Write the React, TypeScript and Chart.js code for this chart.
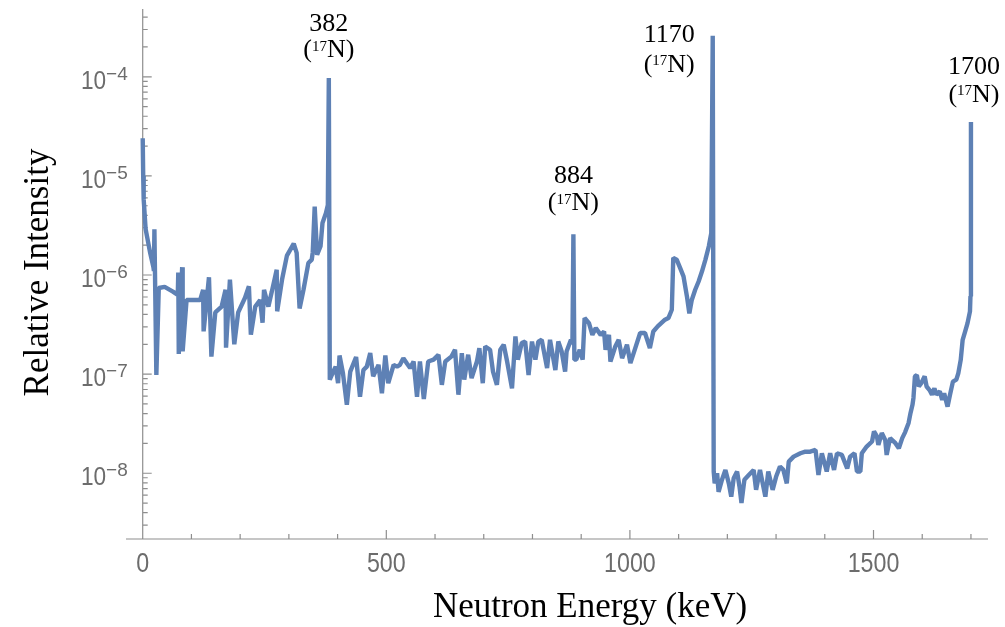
import React, { useEffect, useRef } from "react";
import { Chart, registerables } from "chart.js";

Chart.register(...registerables);

// ---- Data (energy in keV, relative intensity) ----
const energiesA = [0, 1, 2, 6, 15, 22, 23, 24, 28, 33, 45, 62, 72, 73, 74, 81, 82, 90, 118, 124, 125, 136, 141, 149, 162, 170, 171, 179, 188, 196, 210, 218, 222, 231, 241, 246, 249, 258, 265, 275, 276, 286, 296, 310, 316, 322, 330, 340, 347, 349, 353, 358, 365, 369, 376, 380, 382, 384];
const intensitiesA = [2.4e-5, 1.0e-5, 5.8e-6, 2.9e-6, 1.7e-6, 1.2e-6, 1.1e-6, 2.9e-6, 9.8e-8, 7.4e-7, 7.6e-7, 6.8e-7, 6.3e-7, 1.06e-6, 1.6e-7, 1.2e-6, 1.7e-7, 5.6e-7, 5.6e-7, 7.1e-7, 2.7e-7, 9.5e-7, 1.5e-7, 4.2e-7, 4.8e-7, 7.1e-7, 1.85e-7, 9.0e-7, 2.0e-7, 4.2e-7, 5.9e-7, 7.7e-7, 2.5e-7, 4.8e-7, 5.6e-7, 3.3e-7, 7.1e-7, 4.8e-7, 6.8e-7, 1.13e-6, 4.3e-7, 9.0e-7, 1.57e-6, 2.07e-6, 1.67e-6, 4.6e-7, 7.1e-7, 1.32e-6, 1.43e-6, 1.7e-6, 4.9e-6, 1.6e-6, 1.95e-6, 3.35e-6, 4.2e-6, 5.1e-6, 9.7e-5, 8.8e-8];

const energiesB = [391, 396, 401, 404, 411, 419, 426, 438, 446, 453, 460, 467, 473, 484, 491, 498, 504, 515, 522, 528, 535, 542, 549, 556, 563, 569, 577, 586, 597, 607, 614, 621, 634, 641, 648, 655, 660, 668, 675, 686, 691, 698, 703, 713, 719, 727, 734, 741, 748, 758, 765, 770, 778, 785, 792, 799, 806, 812, 819, 830, 836, 847, 853, 860, 867, 870, 879, 882, 884, 886];
const intensitiesB = [1.06e-7, 1.19e-7, 8.1e-8, 1.54e-7, 1.02e-7, 4.9e-8, 1.06e-7, 1.49e-7, 5.9e-8, 1.1e-7, 1.19e-7, 1.63e-7, 9.5e-8, 1.24e-7, 6.4e-8, 1.54e-7, 8.1e-8, 1.24e-7, 1.19e-7, 1.24e-7, 1.45e-7, 1.29e-7, 1.15e-7, 1.34e-7, 5.9e-8, 1.34e-7, 5.6e-8, 1.34e-7, 1.4e-7, 1.57e-7, 7.8e-8, 1.34e-7, 1.51e-7, 1.76e-7, 6.2e-8, 1.63e-7, 8.8e-8, 1.57e-7, 9.1e-8, 1.34e-7, 1.83e-7, 8.1e-8, 1.9e-7, 1.76e-7, 1.06e-7, 7.8e-8, 1.76e-7, 1.98e-7, 1.34e-7, 7.2e-8, 2.4e-7, 1.4e-7, 2.06e-7, 2.13e-7, 9.8e-8, 2.13e-7, 1.4e-7, 2.13e-7, 2.22e-7, 1.15e-7, 2.22e-7, 1.1e-7, 2.13e-7, 1.69e-7, 1.06e-7, 1.69e-7, 2.22e-7, 2.0e-7, 2.58e-6, 1.4e-7];

const energiesC = [890, 897, 903, 907, 916, 923, 930, 940, 947, 950, 957, 960, 970, 977, 984, 994, 1001, 1011, 1021, 1031, 1041, 1048, 1057, 1072, 1079, 1086, 1089, 1096, 1103, 1110, 1117, 1122, 1127, 1134, 1141, 1148, 1155, 1162, 1167, 1170, 1172];
const intensitiesC = [1.4e-7, 1.76e-7, 1.4e-7, 3.68e-7, 3.27e-7, 2.49e-7, 2.92e-7, 2.49e-7, 2.69e-7, 1.76e-7, 2.49e-7, 1.34e-7, 1.9e-7, 2.22e-7, 1.45e-7, 1.98e-7, 1.29e-7, 1.83e-7, 2.6e-7, 2.6e-7, 1.83e-7, 2.69e-7, 3.03e-7, 3.54e-7, 3.68e-7, 4.46e-7, 1.49e-6, 1.43e-6, 1.18e-6, 9.7e-7, 6.1e-7, 4.1e-7, 5.6e-7, 7.1e-7, 8.6e-7, 1.09e-6, 1.43e-6, 1.95e-6, 2.65e-6, 2.6e-4, 1.04e-8];

const energiesD = [1174, 1179, 1182, 1189, 1196, 1203, 1208, 1213, 1220, 1225, 1229, 1235, 1244, 1254, 1259, 1267, 1278, 1284, 1293, 1300, 1308, 1315, 1322, 1326, 1336, 1350, 1360, 1370, 1381, 1387, 1394, 1404, 1411, 1419, 1425, 1435, 1446, 1452, 1461, 1466, 1473, 1476, 1486, 1497, 1501, 1507, 1510, 1517, 1524, 1527, 1534, 1545, 1552, 1559, 1565, 1572, 1576, 1580, 1582, 1585, 1589, 1593, 1598, 1605, 1609, 1615, 1620, 1625, 1629, 1636, 1641, 1645, 1652, 1657, 1663, 1670, 1674, 1679, 1683, 1688, 1693, 1698, 1699, 1700];
const intensitiesD = [7.9e-9, 1.0e-8, 6.5e-9, 8.6e-9, 1.08e-8, 7.9e-9, 5.8e-9, 8.9e-9, 1.04e-8, 7.3e-9, 5.0e-9, 8.6e-9, 9.6e-9, 1.08e-8, 6.8e-9, 1.08e-8, 5.8e-9, 1.04e-8, 6.8e-9, 9.2e-9, 1.17e-8, 1.08e-8, 7.9e-9, 1.31e-8, 1.47e-8, 1.59e-8, 1.65e-8, 1.65e-8, 1.72e-8, 9.6e-9, 1.59e-8, 1.04e-8, 1.59e-8, 1.08e-8, 1.59e-8, 1.53e-8, 1.12e-8, 1.47e-8, 1.59e-8, 1.04e-8, 1.04e-8, 1.59e-8, 1.86e-8, 2.09e-8, 2.64e-8, 2.35e-8, 1.93e-8, 2.54e-8, 2.17e-8, 1.53e-8, 2.26e-8, 2.01e-8, 1.79e-8, 2.26e-8, 2.6e-8, 3.22e-8, 4.06e-8, 4.9e-8, 5.75e-8, 9.5e-8, 9.8e-8, 7.5e-8, 8.1e-8, 9.5e-8, 7.5e-8, 6.9e-8, 6.2e-8, 7.2e-8, 6.2e-8, 6.7e-8, 5.5e-8, 6.4e-8, 4.7e-8, 6.2e-8, 8.4e-8, 8.8e-8, 1.02e-7, 1.39e-7, 2.22e-7, 2.69e-7, 3.27e-7, 4.3e-7, 6.1e-7, 3.5e-5];

const energies = [...energiesA, ...energiesB, ...energiesC, ...energiesD];
const intensities = [...intensitiesA, ...intensitiesB, ...intensitiesC, ...intensitiesD];

// Tick labels and peak annotations
const xTickValues = [0, 500, 1000, 1500];
const xTickLabels = ["0", "500", "1000", "1500"];
const yTickExponents = [-4, -5, -6, -7, -8];
const peakEnergies = [382, 884, 1170, 1700];
const peakLabels = ["382", "884", "1170", "1700"];
const nuclideLabel = "N";
const nuclideMass = "17";

const xTitle = "Neutron Energy (keV)";
const yTitle = "Relative Intensity";

const X_MIN = -34.3;
const X_MAX = 1735;
const Y_MIN = 2.17e-9;
const Y_MAX = 4.83e-4;

const SANS = '"Liberation Sans", Arial, sans-serif';
const SERIF = '"Liberation Serif", "Times New Roman", serif';
const LINE_COLOR = "#5e81b5";
const AXIS_COLOR = "#8e8e8e";
const TICK_TEXT = "#6c6c6c";

function drawNuclide(ctx: CanvasRenderingContext2D, cx: number, baseline: number) {
  ctx.font = `26px ${SERIF}`;
  const wOpen = ctx.measureText("(").width;
  const wRest = ctx.measureText(nuclideLabel + ")").width;
  ctx.font = `15px ${SERIF}`;
  const wSup = ctx.measureText(nuclideMass).width;
  let x = cx - (wOpen + wSup + wRest) / 2;
  ctx.textAlign = "left";
  ctx.font = `26px ${SERIF}`;
  ctx.fillText("(", x, baseline);
  x += wOpen;
  ctx.font = `15px ${SERIF}`;
  ctx.fillText(nuclideMass, x, baseline - 6.5);
  x += wSup;
  ctx.font = `26px ${SERIF}`;
  ctx.fillText(nuclideLabel + ")", x, baseline);
}

const decorPlugin = {
  id: "decor",
  beforeDatasetsDraw(chart: any) {
    const { ctx, chartArea: a, scales } = chart;
    const xs = scales.x;
    const ys = scales.y;
    const x0 = xs.getPixelForValue(0);
    ctx.save();
    ctx.strokeStyle = AXIS_COLOR;
    ctx.lineWidth = 1.2;
    ctx.beginPath();
    ctx.moveTo(a.left, a.bottom);
    ctx.lineTo(a.right, a.bottom);
    ctx.moveTo(x0, a.top);
    ctx.lineTo(x0, a.bottom);
    for (let v = 0; v <= 1700; v += 100) {
      const px = xs.getPixelForValue(v);
      const len = v % 500 === 0 ? 9 : 5;
      ctx.moveTo(px, a.bottom);
      ctx.lineTo(px, a.bottom - len);
    }
    for (let e = -9; e <= -4; e++) {
      for (let k = 1; k <= 9; k++) {
        const val = k * Math.pow(10, e);
        if (val < Y_MIN || val > Y_MAX) continue;
        const py = ys.getPixelForValue(val);
        const len = k === 1 ? 9 : 5;
        ctx.moveTo(x0, py);
        ctx.lineTo(x0 + len, py);
      }
    }
    ctx.stroke();
    ctx.restore();
  },
  afterDraw(chart: any) {
    const { ctx, scales } = chart;
    const xs = scales.x;
    const ys = scales.y;
    const x0 = xs.getPixelForValue(0);
    ctx.save();
    ctx.textBaseline = "alphabetic";

    // x tick labels
    ctx.fillStyle = TICK_TEXT;
    ctx.font = `27px ${SANS}`;
    ctx.textAlign = "center";
    xTickValues.forEach((v, i) => {
      const px = xs.getPixelForValue(v);
      const w = ctx.measureText(xTickLabels[i]).width;
      ctx.fillText(xTickLabels[i], px, 572, w * 0.86);
    });

    // y tick labels 10^n
    yTickExponents.forEach((e) => {
      const py = ys.getPixelForValue(Math.pow(10, e));
      const sup = "\u2212" + Math.abs(e);
      const right = x0 - 15;
      ctx.font = `19px ${SANS}`;
      ctx.textAlign = "right";
      const sw = ctx.measureText(sup).width;
      ctx.fillText(sup, right, py + 3);
      ctx.font = `26px ${SANS}`;
      const bw = ctx.measureText("10").width;
      ctx.fillText("10", right - sw, py + 12, bw * 0.87);
    });

    // axis titles
    ctx.fillStyle = "#000";
    ctx.font = `35px ${SERIF}`;
    ctx.textAlign = "center";
    ctx.fillText(xTitle, 590, 617);
    ctx.save();
    ctx.translate(48, 272.5);
    ctx.rotate(-Math.PI / 2);
    ctx.fillText(yTitle, 0, 0);
    ctx.restore();

    // peak annotations
    const offsets = [
      { dx: 0, b1: -47, b2: -21 },
      { dx: 0, b1: -51, b2: -24 },
      { dx: -43.5, b1: 6, b2: 36 },
      { dx: 3, b1: -48, b2: -20 },
    ];
    peakEnergies.forEach((pe, i) => {
      const idx = energies.indexOf(pe);
      const px = xs.getPixelForValue(pe);
      const py = ys.getPixelForValue(intensities[idx]);
      const o = offsets[i];
      const cx = px + o.dx;
      ctx.fillStyle = "#000";
      ctx.font = `26px ${SERIF}`;
      ctx.textAlign = "center";
      ctx.fillText(peakLabels[i], cx, py + o.b1);
      drawNuclide(ctx, cx, py + o.b2);
    });
    ctx.restore();
  },
};

export default function App() {
  const ref = useRef<HTMLCanvasElement>(null);
  useEffect(() => {
    const canvas = ref.current;
    if (!canvas) return;
    const points = energies.map((e, i) => ({ x: e, y: intensities[i] }));
    const chart = new Chart(canvas, {
      type: "line",
      data: {
        datasets: [
          {
            data: points,
            borderColor: LINE_COLOR,
            backgroundColor: LINE_COLOR,
            borderWidth: 4.4,
            pointRadius: 0,
            tension: 0,
            fill: false,
            borderJoinStyle: "bevel",
            borderCapStyle: "butt",
          },
        ],
      },
      options: {
        responsive: false,
        maintainAspectRatio: false,
        animation: false,
        devicePixelRatio: 1,
        layout: { padding: { left: 126, right: 17, top: 9, bottom: 88 } },
        plugins: { legend: { display: false }, tooltip: { enabled: false }, title: { display: false } },
        scales: {
          x: { type: "linear", min: X_MIN, max: X_MAX, display: false },
          y: { type: "logarithmic", min: Y_MIN, max: Y_MAX, display: false },
        },
      },
      plugins: [decorPlugin],
    } as any);
    return () => chart.destroy();
  }, []);
  return (
    <div style={{ position: "fixed", left: 0, top: 0, width: 1005, height: 627, background: "#fff" }}>
      <canvas ref={ref} width={1005} height={627} style={{ display: "block", width: 1005, height: 627 }} />
    </div>
  );
}
